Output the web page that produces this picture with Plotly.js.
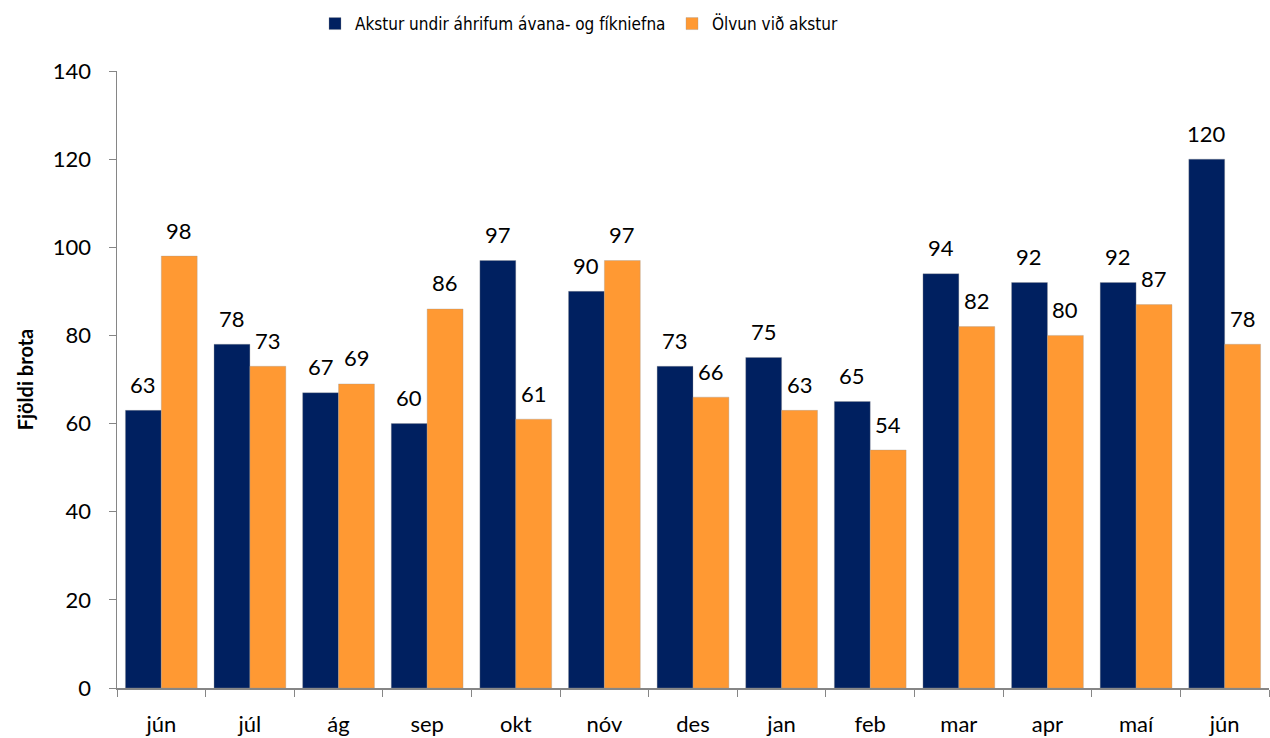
<!DOCTYPE html>
<html>
<head>
<meta charset="utf-8">
<script src="https://cdn.plot.ly/plotly-3.0.1.min.js"></script>
<style>html,body{margin:0;padding:0;background:#fff}#chart{width:1270px;height:738px}</style>
</head>
<body>
<div id="chart"></div>
<script>
const months = ["jún", "júl", "ág", "sep", "okt", "nóv", "des", "jan", "feb", "mar", "apr", "maí", "jún"];
const drugDriving = [63, 78, 67, 60, 97, 90, 73, 75, 65, 94, 92, 92, 120];
const drunkDriving = [98, 73, 69, 86, 61, 97, 66, 63, 54, 82, 80, 87, 78];
const seriesNames = ["Akstur undir áhrifum ávana- og fíkniefna", "Ölvun við akstur"];
const yTicks = [0, 20, 40, 60, 80, 100, 120, 140];

// unique keys for the duplicated month label
const keys = months.map((m, i) => m + "\u200b".repeat(i));

const font = "Lato, 'Open Sans', sans-serif";
const narrow = "'Liberation Sans Narrow', 'DejaVu Sans Condensed', Lato, sans-serif";
const mk = (name, vals, color) => ({
  type: "bar", name: name, x: keys, y: vals,
  marker: {color: color, line: {color: "rgba(150,150,150,0.55)", width: 0.6}},
  hoverinfo: "x+y"
});

const data = [
  mk(seriesNames[0], drugDriving, "#002060"),
  mk(seriesNames[1], drunkDriving, "#FF9933")
];

const labelAnn = (vals, shift) => vals.map((v, i) => ({
  x: keys[i], y: v, xref: "x", yref: "y", text: String(v), showarrow: false,
  xshift: shift, yshift: 26, yanchor: "middle", xanchor: "center",
  font: {family: font, size: 22, color: "#000"}
}));

const layout = {
  width: 1270, height: 738,
  margin: {l: 117, r: 1, t: 71, b: 50},
  paper_bgcolor: "#fff", plot_bgcolor: "#fff",
  font: {family: font, size: 22, color: "#000"},
  barmode: "group", bargap: 0.19, bargroupgap: 0,
  showlegend: true,
  legend: {orientation: "h", xref: "container", x: 315 / 1270, xanchor: "left",
           yref: "container", y: 1 - 24 / 738, yanchor: "middle",
           entrywidth: 312, entrywidthmode: "pixels",
           font: {family: narrow, size: 17, color: "#000"}, traceorder: "normal"},
  xaxis: {
    type: "category", tickmode: "array", tickvals: keys, ticktext: months,
    tickson: "boundaries", ticks: "outside", ticklen: 7, tickcolor: "#868686",
    showline: true, linecolor: "#868686", linewidth: 1.5, showgrid: false,
    ticklabelstandoff: 16,
    tickfont: {family: font, size: 22, color: "#000"}, automargin: false
  },
  yaxis: {
    range: [0, 140], tickmode: "array", tickvals: yTicks,
    ticks: "outside", ticklen: 7, tickcolor: "#868686",
    showline: true, linecolor: "#868686", linewidth: 1.5, showgrid: false, zeroline: false,
    ticklabelstandoff: 13,
    tickfont: {family: font, size: 22, color: "#000"},
    title: {text: "<b>Fjöldi brota</b>", font: {family: font, size: 20, color: "#000"}, standoff: 14},
    automargin: false
  },
  annotations: labelAnn(drugDriving, -18).concat(labelAnn(drunkDriving, 18))
};

Plotly.newPlot("chart", data, layout, {displayModeBar: false, staticPlot: true});
</script>
</body>
</html>
